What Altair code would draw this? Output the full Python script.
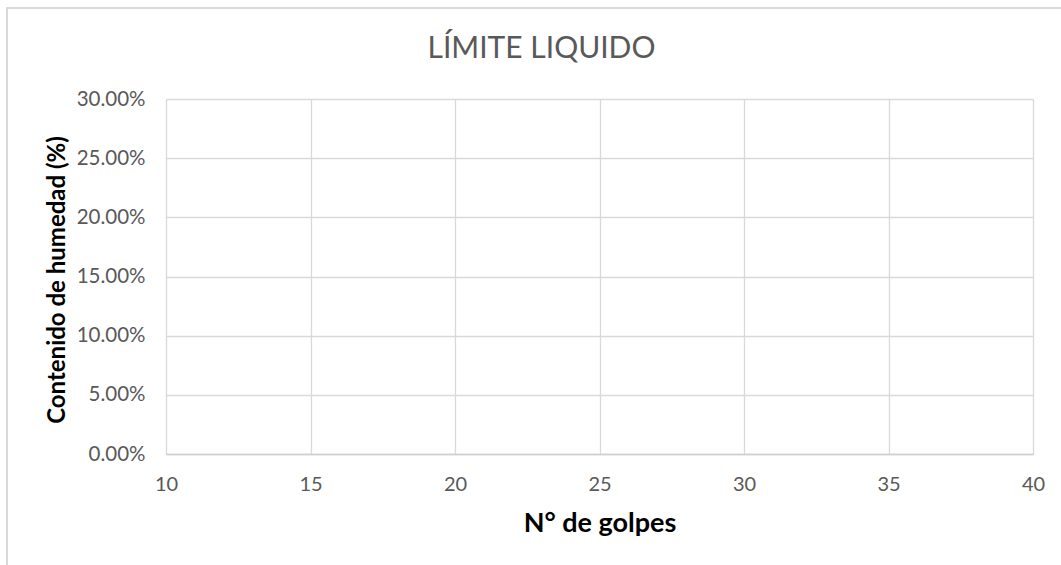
import altair as alt
import pandas as pd

# Trial data (number of blows vs. moisture content) – no readings recorded yet
golpes = []
humedad = []

# Axis ticks
x_ticks = [10, 15, 20, 25, 30, 35, 40]
y_ticks = [0.0, 0.05, 0.10, 0.15, 0.20, 0.25, 0.30]

FONT = "Lato"
GRID = "#d9d9d9"
LABEL = "#595959"

W, H = 867, 355
PAD = {"left": 166, "top": 99, "right": 1061 - 166 - W, "bottom": 565 - 99 - H}

points = pd.DataFrame({"golpes": pd.Series(golpes, dtype=float),
                       "humedad": pd.Series(humedad, dtype=float)})

x_enc = alt.X(
    "golpes:Q",
    scale=alt.Scale(domain=[x_ticks[0], x_ticks[-1]], nice=False, zero=False),
    axis=alt.Axis(
        values=x_ticks, title="N° de golpes", ticks=False, labelFlush=False,
        labelPadding=30, labelBaseline="middle", labelFontSize=20,
        labelColor=LABEL, labelFont=FONT,
        titleFont=FONT, titleFontSize=27, titleFontWeight="bold", titleColor="#000000",
        titleY=69, titleBaseline="middle",
        domainColor="#cfcfcf", domainWidth=1.5,
        gridColor=GRID, gridWidth=1.3,
    ),
)
y_enc = alt.Y(
    "humedad:Q",
    scale=alt.Scale(domain=[y_ticks[0], y_ticks[-1]], nice=False),
    axis=alt.Axis(
        values=y_ticks, format=".2%", title="Contenido de humedad (%)", ticks=False,
        labelFlush=False, labelPadding=21, labelFontSize=20.5, labelColor=LABEL,
        labelFont=FONT,
        titleFont=FONT, titleFontSize=24, titleFontWeight="bold", titleColor="#000000",
        titleX=57 - 166, titleY=H / 2 + 3, titleBaseline="middle",
        domain=False, gridColor=GRID, gridWidth=1.3,
    ),
)

series = alt.Chart(points).mark_point(color="#4472c4", filled=True, size=60).encode(
    x=x_enc, y=y_enc
)

# outer chart border (left and top edges fall inside the canvas)
frame = alt.Chart(alt.Data(values=[{}])).mark_rect(
    fill=None, stroke=GRID, strokeWidth=2
).encode(
    x=alt.value(7 - PAD["left"]),
    x2=alt.value(W + PAD["right"] + 20),
    y=alt.value(8 - PAD["top"]),
    y2=alt.value(H + PAD["bottom"] + 20),
)

chart = (
    alt.layer(frame, series)
    .properties(
        width=W, height=H,
        title=alt.TitleParams(
            "LÍMITE LIQUIDO", font=FONT, fontSize=30, fontWeight="normal",
            color=LABEL, anchor="middle", dx=-58, dy=61,
        ),
        padding=PAD,
        autosize=alt.AutoSizeParams(type="none"),
        background="white",
    )
    .configure_view(stroke=None)
)

chart.save("out.html", embed_options={"renderer": "svg", "actions": False})
